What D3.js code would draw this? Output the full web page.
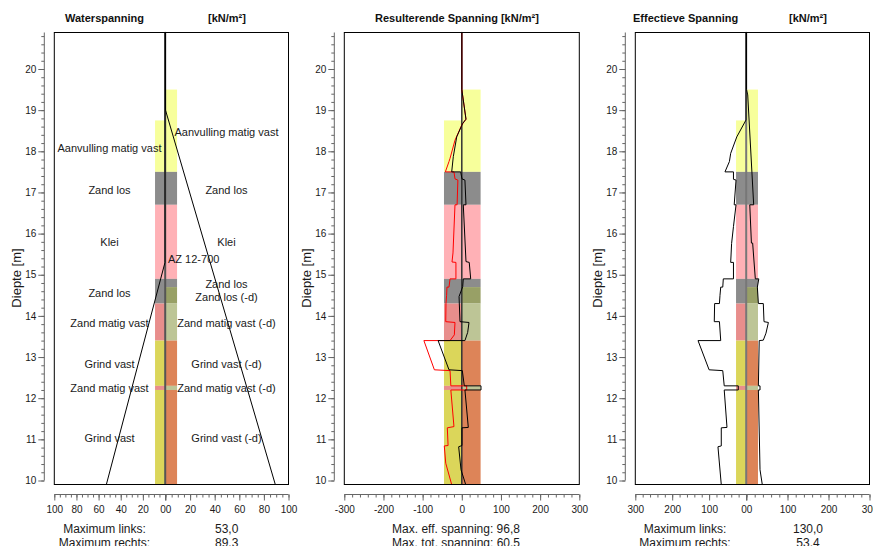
<!DOCTYPE html>
<html>
<head>
    <meta charset="utf-8">
    <title>Spanningen damwand</title>
    <script src="https://d3js.org/d3.v7.min.js"></script>
    <style>
        html, body { margin: 0; padding: 0; background: #fff; overflow: hidden; }
        text { font-family: "Liberation Sans", Arial, sans-serif; fill: #1a1a1a; }
    </style>
</head>
<body>
    <script>
        // soil layers, depth [m]
        const layerDepthsLeft = [18.75, 17.5, 16.7, 14.9, 14.3, 13.4, 12.3, 12.2, 9.9];
        const layerTypesLeft = ["aanvulling", "zand", "klei", "zand", "zandMatig", "grind", "zandMatig", "grind"];
        const layerDepthsRight = [19.5, 17.5, 16.7, 14.9, 14.7, 14.3, 13.4, 12.3, 12.2, 9.9];
        const layerTypesRight = ["aanvulling", "zand", "klei", "zand", "zandD", "zandMatigD", "grindD", "zandMatigD", "grindD"];

        const labelsLeft = ["Aanvulling matig vast", "Zand los", "Klei", "Zand los", "Zand matig vast", "Grind vast", "Zand matig vast", "Grind vast"];
        const labelDepthsLeft = [18.1, 17.08, 15.8, 14.58, 13.85, 12.85, 12.27, 11.05];
        const labelsRight = ["Aanvulling matig vast", "Zand los", "Klei", "Zand los", "Zand los (-d)", "Zand matig vast (-d)", "Grind vast (-d)", "Zand matig vast (-d)", "Grind vast (-d)"];
        const labelDepthsRight = [18.48, 17.08, 15.8, 14.8, 14.48, 13.85, 12.85, 12.27, 11.05];

        // Waterspanning: [depth, kN/m2]
        const waterLeft = [[20.9, 0], [15.3, 0], [9.9, 53.0]];
        const waterRight = [[20.9, 0], [19, 0], [9.9, 89.3]];

        // Resulterende spanning: [depth, kN/m2], signed
        const resEffective = [
            [20.9, 0], [19.5, 0], [18.78, 10.7], [18.64, 0], [18.27, -17.4], [17.83, -30], [17.75, -32.7], [17.5, -42],
            [17.5, -20], [17.33, -17.4], [17.3, -10], [16.7, -12], [16.7, -17.4], [15.53, -22.5], [15.31, -25], [15.3, -15],
            [14.9, -15], [14.9, -30], [14.7, -32.7], [14.7, -37.8], [14.5, -38.8], [14.31, -40.4], [13.86, -41], [13.84, -17.4],
            [13.54, -19], [13.4, -30], [13.4, -96.8], [12.69, -70], [12.67, -30], [12.3, -28], [12.3, 12.5], [12.2, 12.5],
            [12.2, -28], [11.31, -20], [11.28, -37], [10.85, -35], [10.84, -44.7], [10.42, -41], [9.9, -25.8]
        ];
        const resTotal = [
            [20.9, 0], [19.5, 0], [18.78, 10.7], [18.68, 2.3], [18.35, -13], [17.87, -21.7], [17.5, -25.8], [17.5, -2.8],
            [17.33, 0.5], [17.3, 8], [16.7, 10.7], [16.7, 3.8], [15.32, 10.7], [15.3, 19], [14.9, 22.7], [14.9, 3.8],
            [14.71, 2.3], [14.47, -7], [13.86, -4.6], [13.84, 18.4], [13.6, 15], [13.4, 8], [13.4, -60.5], [12.69, -32.7],
            [12.67, 1.3], [12.3, 6.4], [12.3, 49], [12.2, 49], [12.2, 8], [11.29, 16.6], [11.28, 0.5], [10.85, 0.5],
            [10.82, -8], [10.26, -2], [9.9, 10]
        ];

        // Effectieve spanning: [depth, kN/m2]
        const effLeft = [
            [20.9, 0], [18.76, 0], [18.35, 25], [17.95, 41.5], [17.75, 45], [17.5, 57], [17.5, 34], [17.32, 34], [17.3, 27],
            [16.7, 32], [16.7, 27], [16.17, 34], [15.76, 39], [15.3, 41.5], [15.3, 34], [14.9, 34], [14.9, 61.5], [14.7, 63],
            [14.7, 68.5], [14.5, 70.5], [14.3, 72], [14.3, 85], [13.86, 86], [13.86, 72], [13.4, 68.5], [13.4, 130],
            [12.69, 100], [12.67, 63], [12.3, 59], [12.3, 21], [12.2, 21], [12.2, 59], [11.29, 51.5], [11.28, 67],
            [10.84, 67], [10.82, 76], [9.9, 67]
        ];
        const effRight = [
            [20.9, 0], [19.5, 0], [19.37, 3], [16.7, 17.5], [16.7, 8], [15.77, 12], [15.77, 15], [14.9, 21.5], [14.9, 30],
            [14.7, 26.5], [14.3, 29], [14.3, 41], [13.86, 42.7], [13.84, 53.4], [13.58, 47.5], [13.41, 41], [13.4, 31],
            [12.3, 29], [12.3, 33], [12.2, 33], [12.2, 29], [10.26, 33], [9.9, 38.5]
        ];

        const depthMajor = d3.range(10, 21);
        const depthMinor = d3.range(10, 20.81, 0.2);

        const soilColors = {
            aanvulling: "#f7ff9b", zand: "#8c8c8c", klei: "#ffb1b6", zandMatig: "#e88e8c", grind: "#dbd65a",
            zandD: "#98a066", zandMatigD: "#bdc596", grindD: "#dd8458"
        };

        const width = 873, height = 546;
        const frameTop = 32.5, frameBottom = 484.5;
        const axisY = 494.5;

        const svg = d3.select("body").append("svg")
            .attr("width", width)
            .attr("height", height)
            .style("display", "block");

        const y = d3.scaleLinear().domain([10, 20]).range([480.5, 69]);
        const depthTop = y.invert(frameTop);

        function bottomAxis(g, scale, major, minor) {
            g.append("g")
                .attr("transform", `translate(0,${axisY})`)
                .call(d3.axisBottom(scale).tickValues(minor).tickSize(3).tickFormat(""))
                .call(a => a.select(".domain").remove());
            const ax = g.append("g")
                .attr("transform", `translate(0,${axisY})`)
                .call(d3.axisBottom(scale).tickValues(major).tickSizeOuter(0).tickSize(6).tickPadding(5).tickFormat(d => String(d)));
            ax.selectAll("text").attr("font-size", 10);
            ax.select(".domain").remove();
            g.selectAll("g.tick line").attr("stroke", "#666");
            return ax;
        }

        function panel(cfg) {
            const g = svg.append("g");
            const [x0, x1] = cfg.frame;
            const xL = cfg.xLeft, xR = cfg.xRight;
            const sign = cfg.signed ? -1 : 1;

            // soil columns
            layerTypesLeft.forEach((t, i) => {
                g.append("rect")
                    .attr("x", xL(sign * cfg.soilLeft))
                    .attr("y", y(Math.min(layerDepthsLeft[i], depthTop)))
                    .attr("width", xL(0) - xL(sign * cfg.soilLeft))
                    .attr("height", y(layerDepthsLeft[i + 1]) - y(layerDepthsLeft[i]))
                    .attr("fill", soilColors[t]);
            });
            layerTypesRight.forEach((t, i) => {
                g.append("rect")
                    .attr("x", xR(0))
                    .attr("y", y(layerDepthsRight[i]))
                    .attr("width", xR(cfg.soilRight) - xR(0))
                    .attr("height", y(layerDepthsRight[i + 1]) - y(layerDepthsRight[i]))
                    .attr("fill", soilColors[t]);
            });

            // wall
            g.append("line")
                .attr("x1", cfg.wall).attr("x2", cfg.wall)
                .attr("y1", frameTop).attr("y2", frameBottom)
                .attr("stroke", cfg.wallColor).attr("stroke-width", cfg.wallWidth);

            // stress lines
            cfg.lines.forEach(l => {
                const line = d3.line().x(d => l.x(d[1])).y(d => y(d[0]));
                g.append("path")
                    .attr("d", line(l.data))
                    .attr("fill", "none")
                    .attr("stroke", l.color)
                    .attr("stroke-width", 1)
                    .attr("stroke-linejoin", "miter");
            });

            // frame
            g.append("rect")
                .attr("x", x0).attr("y", frameTop)
                .attr("width", x1 - x0).attr("height", frameBottom - frameTop)
                .attr("fill", "none").attr("stroke", "#000").attr("stroke-width", 1);

            // depth axis
            const axX = x0 - 10;
            const minor = g.append("g")
                .attr("transform", `translate(${axX},0)`)
                .call(d3.axisLeft(y).tickValues(depthMinor).tickSize(3).tickFormat(""));
            minor.select(".domain").remove();
            const major = g.append("g")
                .attr("transform", `translate(${axX},0)`)
                .call(d3.axisLeft(y).tickValues(depthMajor).tickSize(6).tickPadding(2).tickFormat(d3.format("d")));
            major.select(".domain").remove();
            major.selectAll("text").attr("font-size", 10);
            g.append("line")
                .attr("x1", axX).attr("x2", axX)
                .attr("y1", frameTop).attr("y2", y(10))
                .attr("stroke", "#666");
            g.selectAll("g.tick line").attr("stroke", "#666");

            g.append("text")
                .attr("transform", `translate(${x0 - 33},278) rotate(-90)`)
                .attr("text-anchor", "middle")
                .attr("font-size", 13)
                .text("Diepte [m]");

            // x axis
            if (cfg.signed) {
                bottomAxis(g, xL, cfg.ticks, cfg.minorTicks);
            } else {
                const a = bottomAxis(g, xL, cfg.ticks, cfg.minorTicks);
                a.selectAll("text").filter(d => d === 0).attr("dx", -2.5);
                const b = bottomAxis(g, xR, cfg.ticks, cfg.minorTicks);
                b.selectAll("text").filter(d => d === 0).attr("dx", 2.5);
            }
            g.append("line")
                .attr("x1", x0).attr("x2", x1)
                .attr("y1", axisY).attr("y2", axisY)
                .attr("stroke", "#666");

            // titles
            cfg.titles.forEach(t => {
                g.append("text").attr("x", t[1]).attr("y", 21.5)
                    .attr("font-size", 11).attr("font-weight", "bold")
                    .style("fill", "#111").text(t[0]);
            });

            // footer
            cfg.footer.forEach(t => {
                g.append("text").attr("x", t[1]).attr("y", t[2])
                    .attr("text-anchor", "middle").attr("font-size", 12)
                    .text(t[0]);
            });
            return g;
        }

        // Waterspanning
        const w1L = d3.scaleLinear().domain([100, 0]).range([54.3, 165]);
        const w1R = d3.scaleLinear().domain([0, 100]).range([165.5, 288.5]);
        const p1 = panel({
            frame: [54.3, 288.5], xLeft: w1L, xRight: w1R, soilLeft: 9, soilRight: 9.4,
            wall: 165.2, wallColor: "#555", wallWidth: 2,
            ticks: d3.range(0, 101, 20), minorTicks: d3.range(0, 101, 5),
            lines: [
                { data: waterLeft, x: w1L, color: "#000" },
                { data: waterRight, x: w1R, color: "#000" }
            ],
            titles: [["Waterspanning", 65], ["[kN/m²]", 208]],
            footer: [["Maximum links:", 104.5, 533], ["53,0", 226.7, 533], ["Maximum rechts:", 104.5, 547], ["89,3", 226.7, 547]]
        });
        labelsLeft.forEach((t, i) => {
            p1.append("text").attr("x", 109.5).attr("y", y(labelDepthsLeft[i]))
                .attr("dy", "0.42em").attr("text-anchor", "middle").attr("font-size", 11).text(t);
        });
        labelsRight.forEach((t, i) => {
            p1.append("text").attr("x", 226.5).attr("y", y(labelDepthsRight[i]))
                .attr("dy", "0.42em").attr("text-anchor", "middle").attr("font-size", 11).text(t);
        });
        p1.append("text").attr("x", 168).attr("y", y(15.38))
            .attr("dy", "0.35em").attr("font-size", 11).text("AZ 12-700");

        // Resulterende spanning
        const r = d3.scaleLinear().domain([-300, 300]).range([344.3, 579.3]);
        panel({
            frame: [344.3, 579.3], xLeft: r, xRight: r, signed: true, soilLeft: 45.5, soilRight: 48,
            wall: 461.8, wallColor: "#333", wallWidth: 1.5,
            ticks: d3.range(-300, 301, 100), minorTicks: d3.range(-300, 301, 20),
            lines: [
                { data: resEffective, x: r, color: "#ff0000" },
                { data: resTotal, x: r, color: "#000" }
            ],
            titles: [["Resulterende Spanning [kN/m²]", 375]],
            footer: [["Max. eff. spanning: 96,8", 456, 533], ["Max. tot. spanning: 60,5", 456, 547]]
        });

        // Effectieve spanning
        const e1L = d3.scaleLinear().domain([300, 0]).range([635.3, 746]);
        const e1R = d3.scaleLinear().domain([0, 300]).range([746.5, 869.5]);
        panel({
            frame: [635.3, 869.5], xLeft: e1L, xRight: e1R, soilLeft: 27, soilRight: 28,
            wall: 746.2, wallColor: "#777", wallWidth: 2,
            ticks: d3.range(0, 301, 100), minorTicks: d3.range(0, 301, 20),
            lines: [
                { data: effLeft, x: e1L, color: "#000" },
                { data: effRight, x: e1R, color: "#000" }
            ],
            titles: [["Effectieve Spanning", 633], ["[kN/m²]", 789]],
            footer: [["Maximum links:", 685, 533], ["130,0", 808, 533], ["Maximum rechts:", 685, 547], ["53,4", 808, 547]]
        });
    </script>
</body>
</html>
